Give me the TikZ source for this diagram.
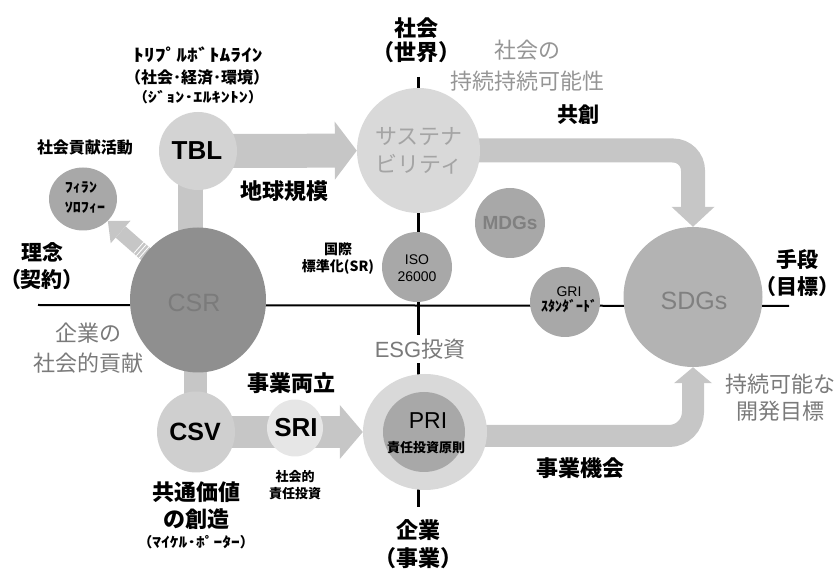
\documentclass[tikz,border=0pt]{standalone}
\usepackage{fontspec}
\usepackage{graphicx}
\setmainfont{Noto Sans CJK JP}
\newfontfamily\lat{Liberation Sans}
\usetikzlibrary{arrows.meta,calc,shapes.geometric}
\pgfdeclarelayer{background}
\pgfsetlayers{background,main}
\newcommand\fsz[2]{\fontsize{#1}{#2}\selectfont}
\newcommand\hw[2]{\scalebox{#1}[1]{#2}}
\definecolor{csus}{HTML}{D9D9D9}
\definecolor{ctbl}{HTML}{D3D3D3}
\definecolor{ccsv}{HTML}{CFCFCF}
\definecolor{csri}{HTML}{E6E6E6}
\definecolor{cpriout}{HTML}{D9D9D9}
\definecolor{cmid}{HTML}{A8A8A8}
\definecolor{ccsr}{HTML}{8F8F8F}
\definecolor{csdg}{HTML}{B3B3B3}
\definecolor{cband}{HTML}{C6C6C6}
\definecolor{gtxt}{HTML}{7A7A7A}
\definecolor{gtxtl}{HTML}{959595}
\definecolor{ctxtsus}{HTML}{A4A4A4}
\definecolor{ctxtdark}{HTML}{7B7B7B}
\definecolor{ctxtmid}{HTML}{808080}
\tikzset{
  blob/.style={ellipse, draw=none, inner sep=0pt, minimum width=#1},
  lbl/.style={align=center, inner sep=0pt},
  band/.style={draw=cband, line width=#1},
  axis/.style={draw=black, line width=#1},
  stripe/.style={draw=white, line width=0.8pt},
}
\begin{document}
\begin{tikzpicture}[x=1pt,y=-1pt]
\useasboundingbox (0,0) rectangle (839,569);

% circles
\node[blob=123pt, minimum height=125pt, fill=csus] (sus) at (418.5,150.5) {};
\node[blob=78pt, minimum height=78pt, fill=ctbl] (TBL) at (198,151) {};
\node[blob=68pt, minimum height=63pt, fill=cmid] (phil) at (83,199) {};
\node[blob=136pt, minimum height=145pt, fill=ccsr] (CSR) at (198,300) {};
\node[blob=78pt, minimum height=81pt, fill=ccsv] (CSV) at (196,432) {};
\node[blob=56pt, minimum height=57pt, fill=csri] (SRI) at (295,428) {};
\node[blob=70pt, minimum height=70pt, fill=cmid] (ISO) at (417,267) {};
\node[blob=70pt, minimum height=70pt, fill=cmid] (MDG) at (510,223) {};
\node[blob=70pt, minimum height=70pt, fill=cmid] (GRI) at (565,302) {};
\node[blob=139pt, minimum height=140pt, fill=csdg] (SDGs) at (693,297) {};
\node[blob=124pt, minimum height=116pt, fill=cpriout] (PRI) at (425,432) {};
\node[blob=82pt, minimum height=80pt, fill=cmid] (PRIin) at (424,432) {};

% texts in circles
\node[lbl, text=ctxtsus, font=\fsz{22}{28}] (tsus) at (419,151) {サステナ\\ビリティ};
\node[lbl, font=\lat\bfseries\fsz{26}{28}] (tTBL) at (197,151) {TBL};
\node[lbl, align=left, font=\bfseries\fsz{14}{20}] (tphil) at (85,198) {\hw{1.15}{ﾌｨﾗﾝ}\\\hw{1.15}{ｿﾛﾌｨｰ}};
\node[lbl, text=ctxtdark, font=\lat\fsz{25}{28}] (tCSR) at (194,303) {CSR};
\node[lbl, font=\lat\bfseries\fsz{25}{28}] (tCSV) at (195,432) {CSV};
\node[lbl, font=\lat\bfseries\fsz{26}{28}] (tSRI) at (296,428) {SRI};
\node[lbl, font=\lat\fsz{14}{17}] (tISO) at (417,268) {ISO\\26000};
\node[lbl, text=ctxtmid, font=\lat\bfseries\fsz{19}{20}] (tMDG) at (510,223) {MDGs};
\node[lbl, font=\fsz{14}{15}] (tGRI) at (569,300) {{\lat GRI}\\\bfseries ｽﾀﾝﾀﾞｰﾄﾞ};
\node[lbl, text=ctxtmid, font=\lat\fsz{25}{28}] (tSDG) at (694,301) {SDGs};
\node[lbl, font=\lat\fsz{23}{28}] (tPRI) at (428,421) {PRI};
\node[lbl, font=\bfseries\fsz{13}{16}] (tPRI2) at (426,448) {責任投資原則};

% free labels
\node[lbl, font=\bfseries\fsz{16}{18}] (lsk) at (85,147) {社会貢献活動};
\node[lbl, font=\bfseries\fsz{17}{18}] (ltbl1) at (198,55) {\hw{1.27}{ﾄﾘﾌﾟﾙﾎﾞﾄﾑﾗｲﾝ}};
\node[lbl, font=\bfseries\fsz{16}{18}] (ltbl2) at (197,77) {（社会･経済･環境）};
\node[lbl, font=\bfseries\fsz{14}{16}] (ltbl3) at (198,97) {（\hw{1.3}{ｼﾞｮﾝ･ｴﾙｷﾝﾄﾝ}）};
\node[lbl, font=\bfseries\fsz{22}{26}] (lchikyu) at (284,191) {地球規模};
\node[lbl, font=\bfseries\fsz{22}{24}] (lsha) at (416,40) {社会\\（世界）};
\node[lbl, text=gtxtl, font=\fsz{22}{31}] (lsusl) at (527,66) {社会の\\持続持続可能性};
\node[lbl, font=\bfseries\fsz{21}{24}] (lkyo) at (578,115) {共創};
\node[lbl, font=\bfseries\fsz{21}{27}] (lshu) at (797,273) {手段\\（目標）};
\node[lbl, font=\bfseries\fsz{21}{27}] (lrin) at (42,266) {理念\\（契約）};
\node[lbl, text=gtxt, font=\fsz{22}{30}] (lkig) at (89,348) {企業の\\社会的貢献};
\node[lbl, font=\bfseries\fsz{14}{17}] (lkok) at (338,258) {国際\\標準化(SR)};
\node[lbl, fill=white, inner sep=4pt, text=gtxt, font=\fsz{22}{24}] (lesg) at (420,349) {{\lat ESG}投資};
\node[lbl, font=\bfseries\fsz{22}{24}] (lryo) at (291,383) {事業両立};
\node[lbl, font=\bfseries\fsz{13}{17}] (lsri) at (295,485) {社会的\\責任投資};
\node[lbl, font=\bfseries\fsz{22}{27}] (lkyt) at (196,506) {共通価値\\の創造};
\node[lbl, font=\bfseries\fsz{14}{16}] (lmp) at (196,542) {（\hw{1.25}{ﾏｲｹﾙ･ﾎﾟｰﾀｰ}）};
\node[lbl, font=\bfseries\fsz{22}{24}] (lkik) at (580,468) {事業機会};
\node[lbl, text=gtxt, font=\fsz{22}{27}] (lsdg) at (780,398) {持続可能な\\開発目標};
\node[lbl, font=\bfseries\fsz{22}{28}] (lkgy) at (418,544) {企業\\（事業）};

\coordinate (vtop) at (418,77);
\coordinate (vbot) at (418,507);
\coordinate (hl) at (38,305);
\coordinate (hr) at (789,306);

\begin{pgfonlayer}{background}
  \draw[axis=3pt] (vtop) -- (vbot);
  \draw[axis=2pt] (hl) -- (hr);
  % bands
  \draw[band=25pt] ([xshift=-8pt]TBL.center) -- ([xshift=-8pt]CSR.center);
  \draw[band=23pt] ([xshift=-3pt]CSR.center) -- ([xshift=-1pt]CSV.center);
  \draw[band=34pt, -{Triangle[width=58pt,length=22pt,line width=0pt]}] (TBL.center) -- (sus);
  \draw[band=15pt, -{Triangle[width=30pt,length=17pt,line width=0pt]}] (CSR.center) -- (phil);
  \draw[band=32pt, -{Triangle[width=54pt,length=23pt,line width=0pt]}] (CSV.center) -- (PRI);
  \draw[band=24pt, rounded corners=20pt, -{Triangle[width=43pt,length=20pt,line width=0pt]}] (sus.center) -| (SDGs.north);
  \draw[band=22pt, rounded corners=24pt, -{Triangle[width=38pt,length=16pt,line width=0pt]}] ([yshift=-4pt]PRI.center) -| (SDGs.south);
\end{pgfonlayer}
% stripes at base of CSR arrow
\foreach \d in {72,75.5,79} {
  \coordinate (s) at ($(CSR.center)!\d pt!(phil.center)$);
  \draw[stripe] ($(s)!7.5pt!90:(phil.center)$) -- ($(s)!7.5pt!-90:(phil.center)$);
}
\end{tikzpicture}
\end{document}
